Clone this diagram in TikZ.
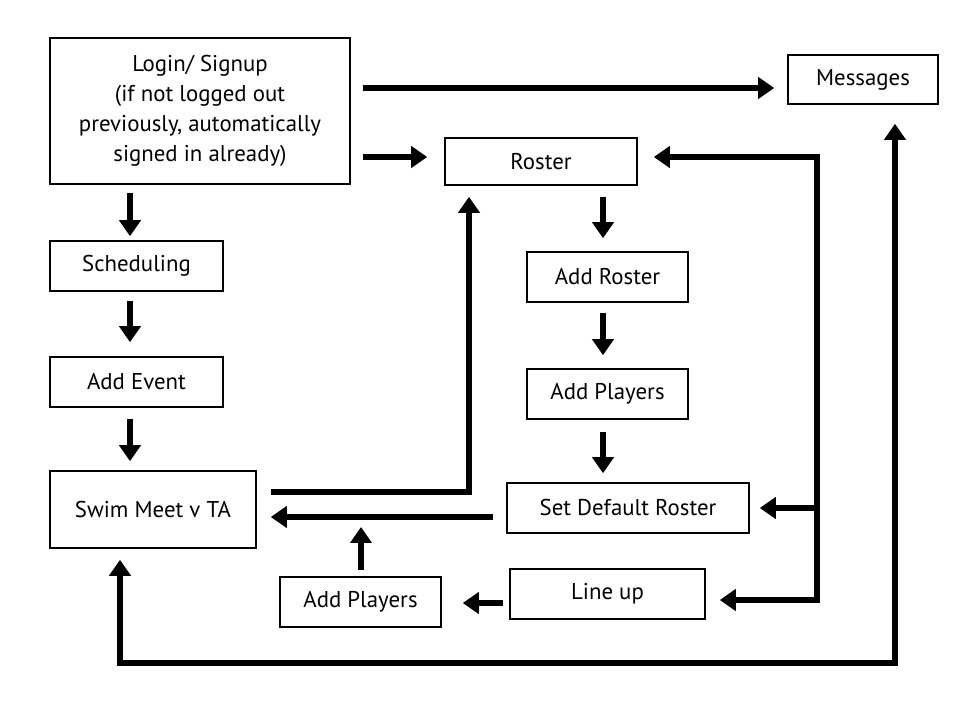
\documentclass[tikz,border=0pt]{standalone}
\usepackage{fontspec}
\setmainfont{PT Sans}
\usetikzlibrary{arrows.meta}

\tikzset{
	box/.style={draw, line width=0.9pt, align=center, inner sep=2pt, font=\fontsize{13}{17}\selectfont},
	arr/.style={line width=0.13cm, -{Triangle[length=0.32cm, width=0.42cm]}},
	dblarr/.style={line width=0.13cm, {Triangle[length=0.32cm, width=0.42cm]}-{Triangle[length=0.32cm, width=0.42cm]}}
}

\begin{document}
\begin{tikzpicture}[x=0.02cm, y=-0.02cm]
		\useasboundingbox (0,0) rectangle (980,716);

		\node [box, minimum width=6cm, minimum height=2.92cm] (login) at (200,111) {Login/ Signup\\(if not logged out\\previously, automatically\\signed in already)};
		\node [box, minimum width=3cm, minimum height=0.98cm] (msg) at (863,79.5) {Messages};
		\node [box, minimum width=3.84cm, minimum height=0.94cm] (roster) at (541,161.5) {Roster};
		\node [box, minimum width=3.46cm, minimum height=1cm] (sched) at (136.5,266) {Scheduling};
		\node [box, minimum width=3.46cm, minimum height=1cm] (event) at (136.5,382) {Add Event};
		\node [box, minimum width=4.12cm, minimum height=1.54cm] (swim) at (153,509.5) {Swim Meet v TA};
		\node [box, minimum width=3.22cm, minimum height=1cm] (addroster) at (607.5,277) {Add Roster};
		\node [box, minimum width=3.22cm, minimum height=1cm] (addplayers) at (607.5,394) {Add Players};
		\node [box, minimum width=4.84cm, minimum height=1cm] (setdef) at (628,508) {Set Default Roster};
		\node [box, minimum width=3.22cm, minimum height=1cm] (addplayersb) at (360.5,602) {Add Players};
		\node [box, minimum width=3.9cm, minimum height=1cm] (lineup) at (607.5,594) {Line up};

		\coordinate (loopa) at (817,157);
		\coordinate (loopb) at (817,600);
		\coordinate (bota) at (895,663);
		\coordinate (botb) at (120,663);
		\coordinate (merge) at (361,517);

		\draw [arr, shorten <=0.24cm, shorten >=0.26cm] (login.east |- 0,88) -- (msg.west |- 0,88);
		\draw [arr, shorten <=0.24cm, shorten >=0.34cm] (login.east |- 0,157) -- (roster.west |- 0,157);

		\draw [arr, shorten <=0.16cm, shorten >=0.08cm] (login.south -| 130,0) -- (sched.north -| 130,0);
		\draw [arr, shorten <=0.18cm, shorten >=0.28cm] (sched.south -| 130,0) -- (event.north -| 130,0);
		\draw [arr, shorten <=0.22cm, shorten >=0.18cm] (event.south -| 130,0) -- (swim.north -| 130,0);

		\draw [arr, shorten <=0.28cm, shorten >=0.22cm] (swim.east |- 0,492) -- (469,492) -- (roster.south -| 469,0);
		\draw [arr, shorten <=0.26cm, shorten >=0.28cm] (setdef.west |- merge) -- (swim.east |- merge);
		\draw [arr, shorten <=0.12cm, shorten >=0.2cm] (addplayersb.north -| merge) -- (merge);
		\draw [arr, shorten <=0.12cm, shorten >=0.42cm] (lineup.west |- 0,603) -- (addplayersb.east |- 0,603);

		\draw [arr, shorten <=0.22cm, shorten >=0.26cm] (roster.south -| 603,0) -- (addroster.north -| 603,0);
		\draw [arr, shorten <=0.2cm, shorten >=0.26cm] (addroster.south -| 603,0) -- (addplayers.north -| 603,0);
		\draw [arr, shorten <=0.24cm, shorten >=0.18cm] (addplayers.south -| 603,0) -- (setdef.north -| 603,0);

		\draw [dblarr, shorten <=0.32cm, shorten >=0.28cm] (roster.east |- loopa) -- (loopa) -- (loopb) -- (lineup.east |- loopb);
		\draw [arr, shorten >=0.2cm] (setdef.east -| loopa) -- (setdef.east);

		\draw [dblarr, shorten <=0.38cm, shorten >=0.22cm] (msg.south -| bota) -- (bota) -- (botb) -- (swim.south -| botb);
	\end{tikzpicture}
\end{document}
